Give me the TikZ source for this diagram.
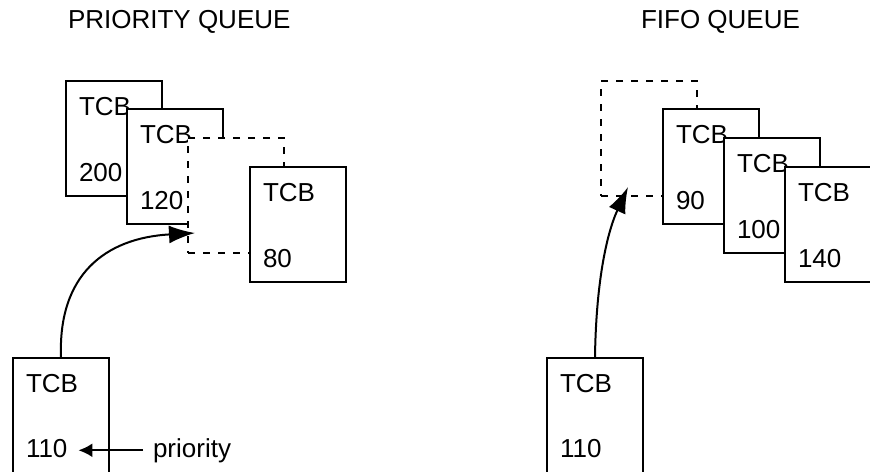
\documentclass[tikz,border=0pt]{standalone}
\usepackage{fontspec}
\setmainfont{Liberation Sans}
\usetikzlibrary{arrows.meta}

\begin{document}
\begin{tikzpicture}[x=0.5pt,y=-0.5pt,line width=1pt,
	every node/.style={font=\fontsize{13}{15}\selectfont},
	tcb/.style={draw,fill=white,anchor=north west,minimum width=48pt,minimum height=57.5pt,inner sep=0pt},
	slot/.style={tcb,dash pattern=on 3.5pt off 4pt},
	fld/.style={anchor=base west,inner sep=0pt},
	link/.style={-{Latex[length=13pt,width=9pt]}},
	ptr/.style={-{Latex[length=7pt,width=7pt]}}]
	\useasboundingbox (0,0) rectangle (870,471);
	\clip (0,0) rectangle (870,471);

	% titles
	\node[fld] (ptitle) at (67,28) {PRIORITY QUEUE};
	\node[fld] (ftitle) at (640,28) {FIFO QUEUE};

	% priority queue
	\node[tcb] (p200) at (65,80) {};
	\node[fld] at ([shift={(13,35)}]p200.north west) {TCB};
	\node[fld] at ([shift={(13,101)}]p200.north west) {200};
	\node[tcb] (p120) at (126,108) {};
	\node[fld] at ([shift={(13,35)}]p120.north west) {TCB};
	\node[fld] at ([shift={(13,101)}]p120.north west) {120};
	\node[slot] (pslot) at (187,137) {};
	\node[tcb] (p80) at (249,166) {};
	\node[fld] at ([shift={(13,35)}]p80.north west) {TCB};
	\node[fld] at ([shift={(13,101)}]p80.north west) {80};

	\node[tcb] (pnew) at (12,357) {};
	\node[fld] at ([shift={(13,35)}]pnew.north west) {TCB};
	\node[fld] (pnew-num) at ([shift={(13,100)}]pnew.north west) {110};
	\node[fld] (prio) at (152,457) {priority};

	\coordinate (pin) at (195,233);
	\draw[link] (pnew.north) .. controls (58,275) and (105,238) .. (pin);
	\draw[ptr,shorten >=5pt,shorten <=4.5pt] (prio.west) -- (prio.west -| pnew-num.east);

	% fifo queue
	\node[slot] (fslot) at (600,80) {};
	\node[tcb] (f90) at (662,108) {};
	\node[fld] at ([shift={(13,35)}]f90.north west) {TCB};
	\node[fld] at ([shift={(13,101)}]f90.north west) {90};
	\node[tcb] (f100) at (723,137) {};
	\node[fld] at ([shift={(13,35)}]f100.north west) {TCB};
	\node[fld] at ([shift={(13,101)}]f100.north west) {100};
	\node[tcb] (f140) at (784,166) {};
	\node[fld] at ([shift={(13,35)}]f140.north west) {TCB};
	\node[fld] at ([shift={(13,101)}]f140.north west) {140};

	\node[tcb] (fnew) at (546,357) {};
	\node[fld] at ([shift={(13,35)}]fnew.north west) {TCB};
	\node[fld] (fnew-num) at ([shift={(13,100)}]fnew.north west) {110};

	\coordinate (fin) at (628,187);
	\draw[link] (fnew.north) .. controls (596,285) and (606,235) .. (fin);
\end{tikzpicture}
\end{document}
